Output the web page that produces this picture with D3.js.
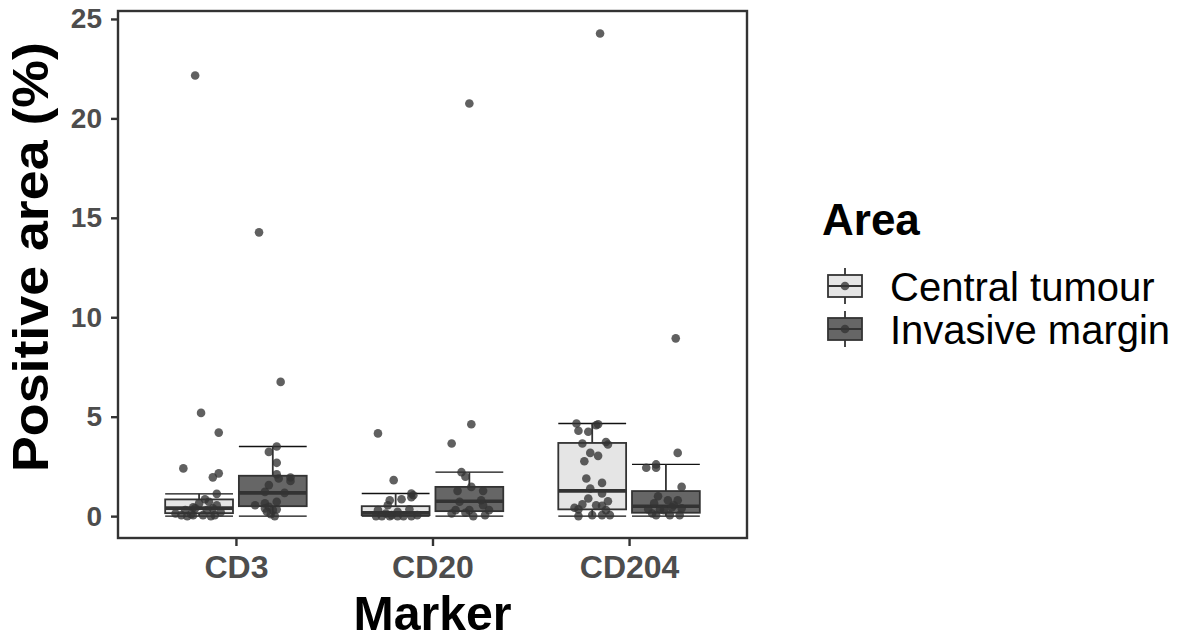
<!DOCTYPE html>
<html><head><meta charset="utf-8">
<script src="https://cdn.jsdelivr.net/npm/d3@7"></script>
<style>
body{margin:0;background:#fff;}
svg{display:block;font-family:"Liberation Sans",Arial,Helvetica,sans-serif;}
</style>
</head><body>
<svg id="chart" width="1189" height="635"></svg>
<script>
// ---------- data ----------
const markers = ["CD3", "CD20", "CD204"];
const areas = ["Central tumour", "Invasive margin"];
const yTicks = [0, 5, 10, 15, 20, 25];
const areaFills = ["#e5e5e5", "#666666"];

// box statistics, order: CD3-CT, CD3-IM, CD20-CT, CD20-IM, CD204-CT, CD204-IM
const boxLow    = [0,    0,    0,    0,    0,    0];
const boxQ1     = [0.15, 0.50, 0.05, 0.25, 0.34, 0.17];
const boxMedian = [0.40, 1.17, 0.17, 0.75, 1.27, 0.50];
const boxQ3     = [0.84, 2.03, 0.50, 1.47, 3.68, 1.26];
const boxHigh   = [1.12, 3.50, 1.14, 2.21, 4.66, 2.60];

// points: [value, jitter in hundredths of a category step]
const cd3Central = [[22.16,-2],[5.19,1],[4.2,10],[2.4,-8],[2.15,10],[1.95,7],[1.12,9],[0.85,3],[0.72,5],[0.64,0],[0.55,9],[0.44,-3],[0.39,-2],[0.39,7],[0.3,-7],[0.3,4],[0.13,-12],[0.05,-9],[0,-6],[0.05,-3],[0.05,2],[0,6],[0.05,8],[0.1,-4],[0.2,11]];
const cd3Invasive = [[14.27,-7],[6.75,4],[3.5,2],[3.23,-2],[2.68,2],[2.1,2],[1.89,3],[1.94,9],[1.77,9],[1.56,-2],[1.22,-4],[1.17,6],[0.72,2],[0.64,-4],[0.55,-9],[0.47,-2],[0.39,-4],[0.34,2],[0.3,0],[0.22,-3],[0.1,-1],[0,1]];
const cd20Central = [[4.16,-9],[1.81,-1],[1.14,8],[1.05,9],[0.95,8],[0.85,3],[0.8,-3],[0.55,-4],[0.34,7],[0.3,-9],[0.22,1],[0.13,-5],[0.05,-2],[0.05,11],[0,-10],[0,-7],[0,-3],[0,1],[0,4],[0,8]];
const cd20Invasive = [[20.75,0],[4.62,1],[3.65,-9],[2.21,-4],[1.98,-2],[1.47,1],[1.27,-6],[1.27,7],[0.8,6],[0.72,-5],[0.55,7],[0.3,-7],[0.3,0],[0.3,10],[0.17,-2],[0.13,-9],[0.05,8],[0,2]];
const cd204Central = [[24.27,4],[4.66,-8],[4.29,-7],[4.24,-2],[4.57,2],[4.62,3],[3.65,-5],[3.73,7],[3.6,8],[3.18,-1],[3.03,3],[2.76,-4],[1.89,-3],[1.67,5],[1.39,-1],[1.14,5],[0.89,-2],[0.75,8],[0.59,-5],[0.55,2],[0.52,5],[0.42,-9],[0.34,-7],[0.3,7],[0,-7],[0.05,0],[0.05,5],[0.05,9]];
const cd204Invasive = [[8.94,5],[3.18,6],[2.6,-5],[2.43,-10],[2.43,-5],[1.47,8],[1.0,-4],[0.8,1],[0.8,6],[0.64,-6],[0.55,4],[0.44,3],[0.39,8],[0.34,-9],[0.34,-3],[0.3,-1],[0.13,-7],[0.05,-5],[0.05,2],[0.05,7]];

const groupPoints = [cd3Central, cd3Invasive, cd20Central, cd20Invasive, cd204Central, cd204Invasive];

// ---------- layout ----------
const panel = {left: 118, top: 11, right: 747, bottom: 538};
const svg = d3.select("#chart");

const x = d3.scalePoint().domain(markers).range([panel.left, panel.right]).padding(0.6);
const y = d3.scaleLinear().domain([-1.1, 25.4]).range([panel.bottom, panel.top]);
const step = x.step();
const dodge = d3.scalePoint().domain(areas).range([-0.1875 * step, 0.1875 * step]);
const boxW = 0.345 * step;

const groups = [];
markers.forEach(m => areas.forEach(a => groups.push({marker: m, area: a})));
groups.forEach((g, i) => {
  g.cx = x(g.marker) + dodge(g.area);
  g.fill = areaFills[areas.indexOf(g.area)];
  g.lo = boxLow[i]; g.q1 = boxQ1[i]; g.med = boxMedian[i]; g.q3 = boxQ3[i]; g.hi = boxHigh[i];
  g.points = groupPoints[i];
});

// ---------- axes ----------
const yAxis = d3.axisLeft(y).tickValues(yTicks).tickSize(7).tickPadding(9);
const ya = svg.append("g").attr("transform", `translate(${panel.left},0)`).call(yAxis);
ya.select(".domain").remove();
ya.selectAll(".tick line").attr("stroke", "#333").attr("stroke-width", 2.4);
ya.selectAll(".tick text").attr("fill", "#4d4d4d").attr("font-size", 28).attr("font-weight", "bold")
  .attr("font-family", "'Liberation Sans',Arial,sans-serif");

const xAxis = d3.axisBottom(x).tickSize(8).tickPadding(9);
const xa = svg.append("g").attr("transform", `translate(0,${panel.bottom})`).call(xAxis);
xa.select(".domain").remove();
xa.selectAll(".tick line").attr("stroke", "#333").attr("stroke-width", 2.4);
xa.selectAll(".tick text").attr("fill", "#4d4d4d").attr("font-size", 32).attr("font-weight", "bold")
  .attr("font-family", "'Liberation Sans',Arial,sans-serif");

// ---------- boxes ----------
const gBox = svg.append("g");
groups.forEach(g => {
  const gg = gBox.append("g");
  [g.lo, g.hi].forEach(v => {
    gg.append("line").attr("x1", g.cx - boxW / 2).attr("x2", g.cx + boxW / 2)
      .attr("y1", y(v)).attr("y2", y(v)).attr("stroke", "#111").attr("stroke-width", 1.4);
  });
  gg.append("line").attr("x1", g.cx).attr("x2", g.cx).attr("y1", y(g.q3)).attr("y2", y(g.hi))
    .attr("stroke", "#333").attr("stroke-width", 1.8);
  gg.append("line").attr("x1", g.cx).attr("x2", g.cx).attr("y1", y(g.q1)).attr("y2", y(g.lo))
    .attr("stroke", "#333").attr("stroke-width", 1.8);
  gg.append("rect").attr("x", g.cx - boxW / 2).attr("width", boxW)
    .attr("y", y(g.q3)).attr("height", y(g.q1) - y(g.q3))
    .attr("fill", g.fill).attr("stroke", "#333").attr("stroke-width", 1.8);
  gg.append("line").attr("x1", g.cx - boxW / 2).attr("x2", g.cx + boxW / 2)
    .attr("y1", y(g.med)).attr("y2", y(g.med)).attr("stroke", "#333").attr("stroke-width", 3.6);
});

// ---------- points ----------
const gPts = svg.append("g");
groups.forEach(g => {
  gPts.selectAll(null).data(g.points).enter().append("circle")
    .attr("cx", d => g.cx + d[1] / 100 * step)
    .attr("cy", d => y(d[0]))
    .attr("r", 4.3)
    .attr("fill", "#333")
    .attr("fill-opacity", 0.78);
});

// ---------- panel border ----------
svg.append("rect").attr("x", panel.left).attr("y", panel.top)
  .attr("width", panel.right - panel.left).attr("height", panel.bottom - panel.top)
  .attr("fill", "none").attr("stroke", "#333").attr("stroke-width", 2.4);

// ---------- titles ----------
svg.append("text").attr("x", (panel.left + panel.right) / 2).attr("y", 630)
  .attr("text-anchor", "middle").attr("font-size", 49).attr("font-weight", "bold").attr("fill", "#000")
  .attr("textLength", 158).attr("lengthAdjust", "spacingAndGlyphs")
  .text("Marker");
svg.append("text").attr("transform", `translate(48,257) rotate(-90)`)
  .attr("text-anchor", "middle").attr("font-size", 50).attr("font-weight", "bold").attr("fill", "#000")
  .attr("textLength", 430).attr("lengthAdjust", "spacingAndGlyphs")
  .text("Positive area (%)");

// ---------- legend ----------
const leg = svg.append("g");
leg.append("text").attr("x", 822).attr("y", 235).attr("font-size", 44).attr("font-weight", "bold")
  .attr("fill", "#000").text("Area");
const keyY = d3.scalePoint().domain(areas).range([286, 329]);
areas.forEach((a, i) => {
  const cy = keyY(a), cx = 845, kw = 34, kh = 22;
  const k = leg.append("g");
  k.append("line").attr("x1", cx).attr("x2", cx).attr("y1", cy - 18).attr("y2", cy + 18)
    .attr("stroke", "#333").attr("stroke-width", 1.8);
  k.append("rect").attr("x", cx - kw / 2).attr("y", cy - kh / 2).attr("width", kw).attr("height", kh)
    .attr("fill", areaFills[i]).attr("stroke", "#333").attr("stroke-width", 1.8);
  k.append("line").attr("x1", cx - kw / 2).attr("x2", cx + kw / 2).attr("y1", cy).attr("y2", cy)
    .attr("stroke", "#333").attr("stroke-width", 1.8);
  k.append("circle").attr("cx", cx).attr("cy", cy).attr("r", 4.3).attr("fill", "#333").attr("fill-opacity", 0.78);
  leg.append("text").attr("x", 890).attr("y", cy + 15).attr("font-size", 40).attr("fill", "#000").text(a);
});
</script>
</body></html>
